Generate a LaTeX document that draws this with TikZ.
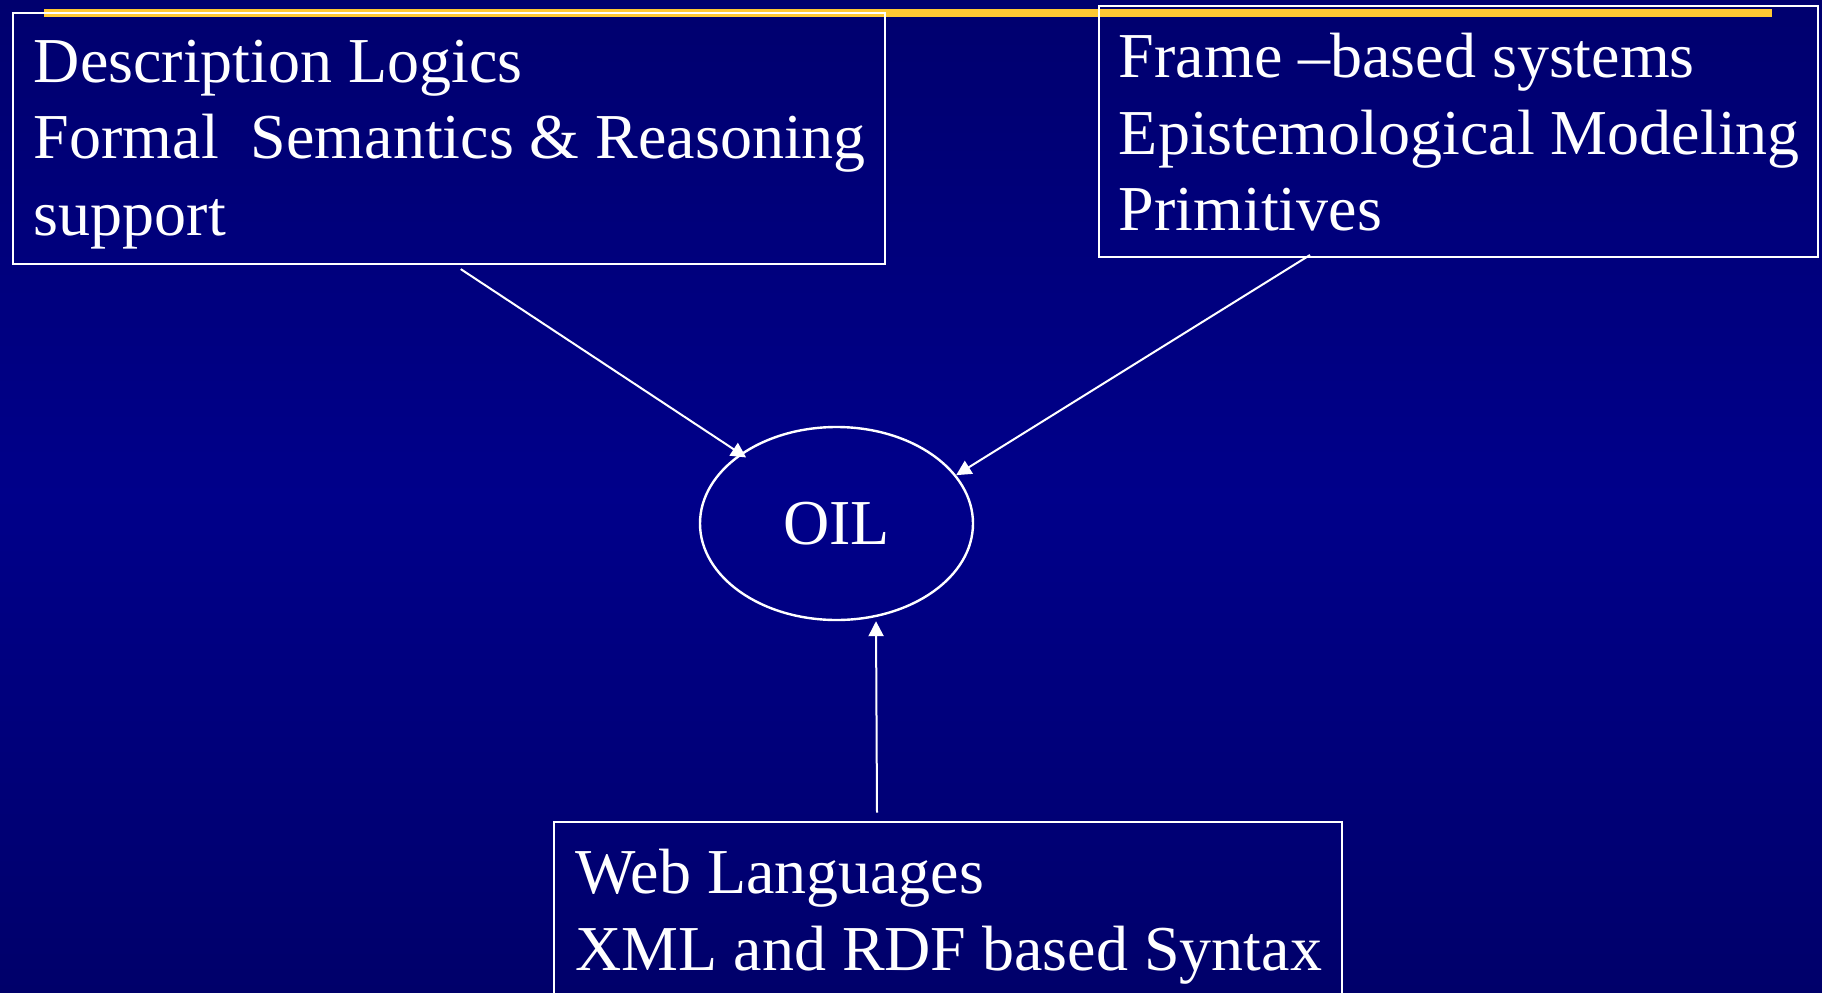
\documentclass[tikz,border=0pt]{standalone}
\usepackage{fontspec}
\setmainfont{Liberation Serif}
\usetikzlibrary{arrows.meta,calc,positioning,shapes.geometric}
\definecolor{slidetop}{RGB}{0,0,110}
\definecolor{slidemid}{RGB}{0,0,138}
\definecolor{slidebot}{RGB}{0,0,106}
\definecolor{rulegold}{RGB}{255,200,51}

\begin{document}
\begin{tikzpicture}[x=.5pt,y=-.5pt,
  box/.style={draw=white,line width=1pt,inner sep=0pt,anchor=north west},
  boxtext/.style={text=white,anchor=north west,inner sep=0pt,align=left,
    font=\fontsize{32}{38.25}\selectfont},
  flow/.style={white,line width=1pt,-{Triangle[length=7.5pt,width=7.5pt]}}]
 \shade[top color=slidetop,bottom color=slidebot,middle color=slidemid]
   (0,0) rectangle (1822,992);
 \useasboundingbox (0,0) rectangle (1822,992);
 \clip (0,0) rectangle (1822,992);
 \draw[rulegold,line width=4pt] (44,12.5)--(1772,12.5);
 \node[box,minimum width=436.25pt,minimum height=125.7pt] (dl) at (11.5,11.7) {};
 \node[box,minimum width=359.5pt,minimum height=125.4pt] (frames) at (1097.5,4.7) {};
 \node[box,minimum width=393.75pt,minimum height=100pt] (web) at (553,820.7) {};
 \node[boxtext] (dltext) at ([shift={(22,28)}]dl.north west)
   {Description Logics\\Formal\ \ Semantics \& Reasoning\\support};
 \node[boxtext] (framestext) at ([shift={(21,28)}]frames.north west)
   {Frame –based systems\\Epistemological Modeling\\Primitives};
 \node[boxtext] (webtext) at ([shift={(22,28)}]web.north west)
   {Web Languages\\XML and RDF based Syntax};
 \node[draw=white,line width=1.2pt,ellipse,minimum width=136.5pt,minimum height=96.5pt,
   inner sep=0pt,text=white,font=\fontsize{32}{38}\selectfont] (oil) at (836.5,523.5) {OIL};
 \draw[flow,shorten >=-3.5pt] ([shift={(12,4)}]dl.south) -- (oil.144);
 \draw[flow] ([shift={(-148,-2.5)}]frames.south) -- (oil.22);
 \draw[flow] ([shift={(-70.75,-8)}]web.north) -- ([shift={(39.5,0)}]oil.south);
\end{tikzpicture}
\end{document}
